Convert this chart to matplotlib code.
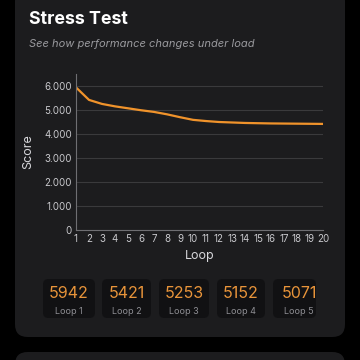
import matplotlib
matplotlib.use("Agg")
import matplotlib.pyplot as plt
from matplotlib.patches import FancyBboxPatch
from matplotlib.ticker import FuncFormatter

loops = list(range(1, 21))
scores = [5942, 5421, 5253, 5152, 5071, 4990, 4920, 4820, 4700, 4590,
          4540, 4500, 4480, 4460, 4450, 4440, 4435, 4430, 4425, 4420]
yticks = [0, 1000, 2000, 3000, 4000, 5000, 6000]
tile_values = scores[:5]
tile_labels = ["Loop 1", "Loop 2", "Loop 3", "Loop 4", "Loop 5"]

W = H = 360
plt.rcParams['font.family'] = ['Inter', 'DejaVu Sans']
fig = plt.figure(figsize=(3.6, 3.6), dpi=100)
fig.patch.set_facecolor("#000000")

def fx(x): return x / W
def fy(y): return 1 - y / H

# cards
card = FancyBboxPatch((fx(15), fy(337)), fx(330), (337 + 12) / H,
                      boxstyle="round,pad=0,rounding_size=0.035",
                      transform=fig.transFigure, facecolor="#1c1c1e",
                      edgecolor="none", zorder=-2)
fig.patches.append(card)
card2 = FancyBboxPatch((fx(15), fy(380)), fx(330), 28 / H,
                       boxstyle="round,pad=0,rounding_size=0.035",
                       transform=fig.transFigure, facecolor="#1c1c1e",
                       edgecolor="none", zorder=-2)
fig.patches.append(card2)

fig.text(fx(29), fy(19), "Stress Test", color="white", fontsize=12.8,
         fontweight="bold", va="center", ha="left")
fig.text(fx(29), fy(44), "See how performance changes under load",
         color="#9a9a9e", fontsize=8, style="italic", va="center", ha="left")

ax = fig.add_axes([fx(76), fy(230), fx(323 - 76), (230 - 74) / H])
ax.set_zorder(3)
ax.set_facecolor("none")
ax.plot(loops, scores, color="#f0932b", lw=1.6, solid_capstyle="round",
        solid_joinstyle="round")
ax.set_xlim(1, 20)
ax.set_ylim(0, 6500)
ax.set_xticks(loops)
ax.set_yticks(yticks)
ax.yaxis.set_major_formatter(FuncFormatter(lambda v, p: f"{int(v):,}".replace(",", ".")))
ax.grid(axis="y", color="#3a3a3c", lw=0.8)
ax.set_axisbelow(True)
for s in ["top", "right"]:
    ax.spines[s].set_visible(False)
for s in ["left", "bottom"]:
    ax.spines[s].set_color("#6e6e72")
    ax.spines[s].set_linewidth(0.8)
ax.tick_params(colors="#c8c8cc", labelsize=7, length=0, pad=3)
ax.tick_params(axis="y", pad=3)
ax.set_xlabel("Loop", color="#d8d8dc", fontsize=9, labelpad=4)
ax.set_ylabel("Score", color="#d8d8dc", fontsize=9, labelpad=7)

# tiles
tile_x = [43, 102, 159, 217, 273]
tile_w = [52, 49, 50, 48, 43]
for x, w, v, lab in zip(tile_x, tile_w, tile_values, tile_labels):
    p = FancyBboxPatch((fx(x), fy(318)), fx(w), 39 / H,
                       boxstyle="round,pad=0,rounding_size=0.015",
                       transform=fig.transFigure, facecolor="#111113",
                       edgecolor="none", zorder=-1)
    fig.patches.append(p)
    cx = x + (52 if w == 43 else w) / 2
    fig.text(fx(cx), fy(294), str(v), color="#e8943a", fontsize=11.5,
             ha="center", va="center")
    fig.text(fx(cx), fy(311), lab, color="#8e8e93", fontsize=6.5,
             ha="center", va="center")

fig.savefig("out.png", dpi=100, facecolor=fig.get_facecolor())
